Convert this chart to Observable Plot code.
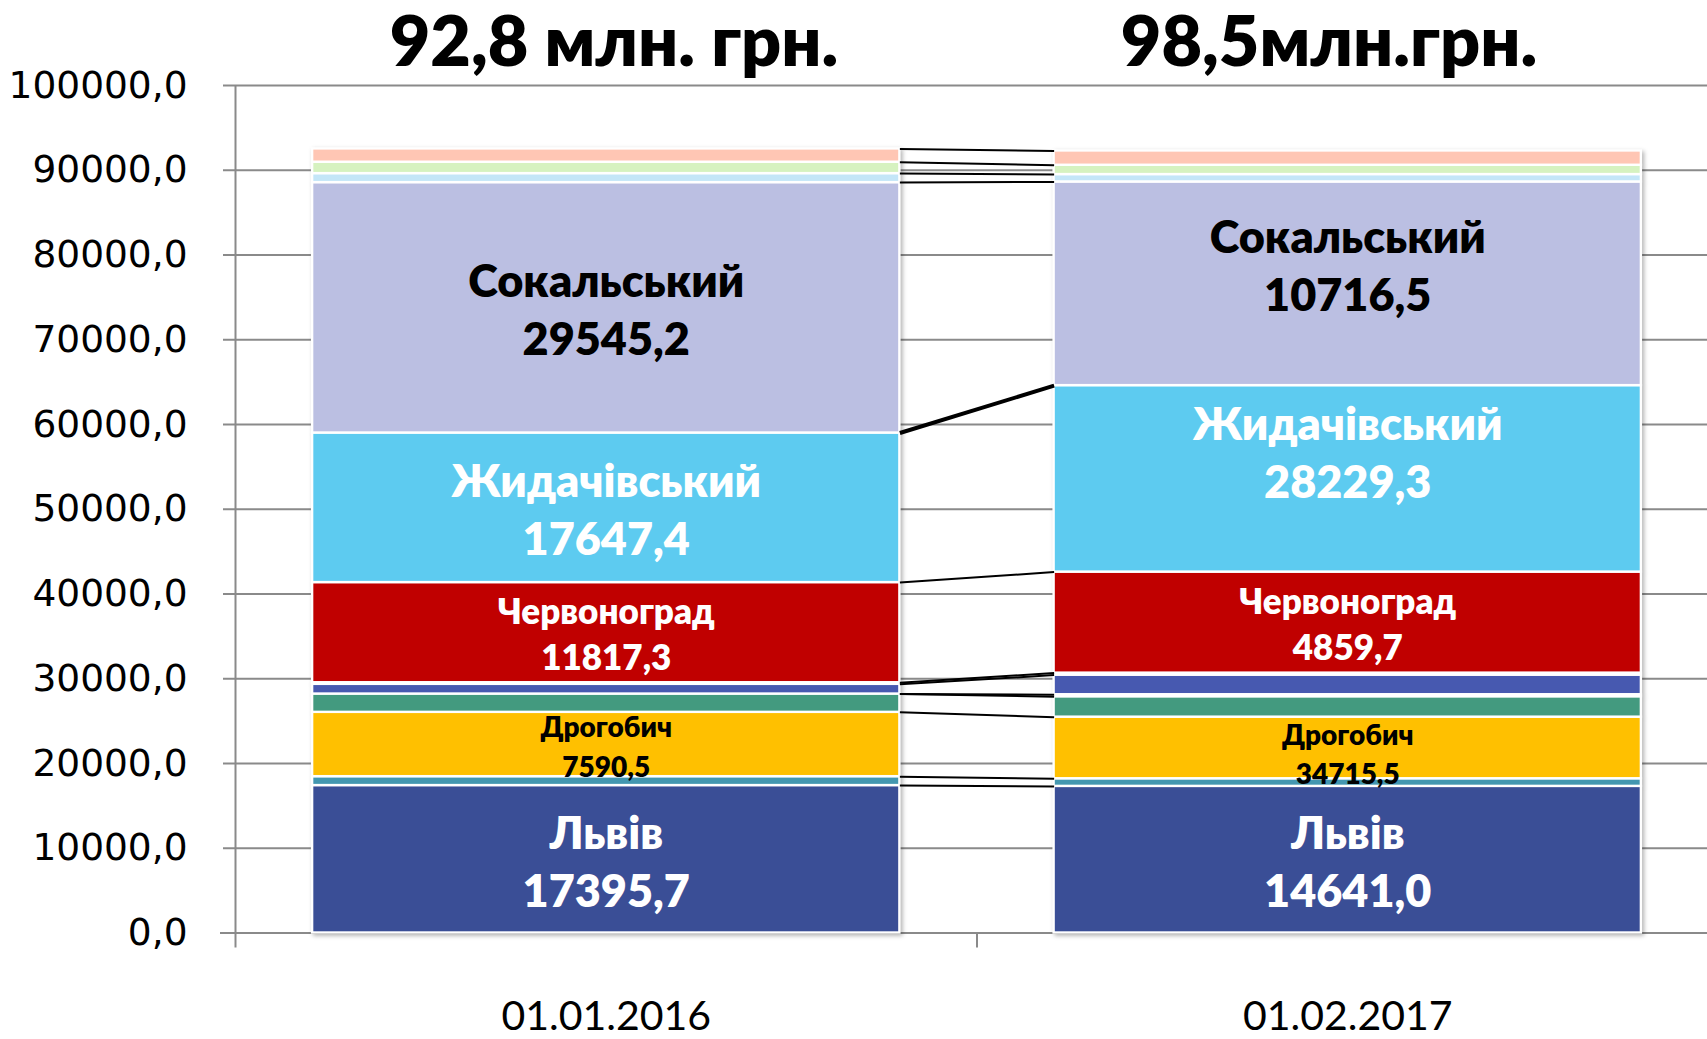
<!DOCTYPE html>
<html><head><meta charset="utf-8">
<script src="https://cdn.jsdelivr.net/npm/d3@7"></script>
<script src="https://cdn.jsdelivr.net/npm/@observablehq/plot@0.6"></script>
<style>
body{margin:0;background:#fff;width:1707px;height:1039px;overflow:hidden;}
#header{position:relative;height:70px;font-family:Lato,"Noto Sans",sans-serif;font-weight:800;}
#header span{position:absolute;top:4px;transform:translateX(-50%);font-size:70px;line-height:1;white-space:nowrap;color:#000;}
#chart svg{overflow:visible;display:block;}
</style></head><body>
<div id="header"></div><div id="chart"></div>
<script>
const dates = ["01.01.2016", "01.02.2017"];
const titles = ["92,8 млн. грн.", "98,5млн.грн."];
const series = ["Львів", "Ряд 2", "Дрогобич", "Ряд 4", "Ряд 5", "Ряд 6", "Ряд 7", "Червоноград", "Жидачівський", "Сокальський", "Ряд 11", "Ряд 12", "Ряд 13"];
const values2016 = [17395.7, 1050, 7590.5, 2160, 0, 1145, 190, 11817.3, 17647.4, 29545.2, 1062, 1346, 1569];
const values2017 = [17300, 900, 7270, 2410, 236, 2313, 236, 11921, 22001, 24031, 873, 1098, 1688];
const labels2016 = ["17395,7", "", "7590,5", "", "", "", "", "11817,3", "17647,4", "29545,2", "", "", ""];
const labels2017 = ["14641,0", "", "34715,5", "", "", "", "", "4859,7", "28229,3", "10716,5", "", "", ""];
const colors = ["#3A4E96", "#4397B0", "#FFC000", "#439A7F", "#E9CDBE", "#4759B0", "#E4DDEE", "#C00000", "#5DCBF0", "#BBBFE2", "#C4E6F8", "#D6F2C0", "#FFC6B4"];
const yTicks = d3.range(0, 100001, 10000);

// title positions (css px)
const titleCenters = [614, 1329];
const header = document.getElementById("header");
titles.forEach((t, i) => {
  const s = document.createElement("span");
  s.textContent = t;
  s.style.left = titleCenters[i] + "px";
  header.appendChild(s);
});

const barHalf = 0.396;
const allValues = [values2016, values2017];
const allLabels = [labels2016, labels2017];
const table = [];
allValues.forEach((vals, i) => {
  let cum = 0;
  vals.forEach((v, j) => {
    table.push({x: i, date: dates[i], series: series[j], y1: cum, y2: cum + v, value: v, label: allLabels[i][j]});
    cum += v;
  });
});
const links = series.map((s, j) => ({
  series: s,
  ya: table.find(d => d.x === 0 && d.series === s).y2,
  yb: table.find(d => d.x === 1 && d.series === s).y2
}));

// label styling (manual label nudges as in the original, in px)
const labelStyle = {
  "Львів": {fontSize: 45, fill: "white", lineHeight: 1.29},
  "Дрогобич": {fontSize: 28, fill: "black", lineHeight: 1.4},
  "Червоноград": {fontSize: 35, fill: "white", lineHeight: 1.3},
  "Жидачівський": {fontSize: 45, fill: "white", lineHeight: 1.29},
  "Сокальський": {fontSize: 45, fill: "black", lineHeight: 1.29}
};
const labelNudge = {"1|Сокальський": -20, "1|Жидачівський": -28, "1|Дрогобич": 4};
const labelFont = 'Lato, "Noto Sans", sans-serif';
const textMarks = Object.entries(labelStyle).flatMap(([s, st]) =>
  dates.map((dt, i) => Plot.text(table.filter(d => d.series === s && d.x === i && d.label), {
    x: "x", y: d => (d.y1 + d.y2) / 2, dy: labelNudge[i + "|" + s] || 0,
    text: d => d.series + "\n" + d.label,
    fontSize: st.fontSize, fill: st.fill, lineHeight: st.lineHeight,
    fontWeight: 800, fontFamily: labelFont, textAnchor: "middle", lineAnchor: "middle"
  }))
);

const plot = Plot.plot({
  width: 1707, height: 969,
  marginTop: 15, marginBottom: 106.5, marginLeft: 235, marginRight: -11,
  x: {type: "linear", domain: [-0.5, 1.5]},
  y: {domain: [0, 100000]},
  color: {type: "ordinal", domain: series, range: colors},
  style: {background: "white", color: "black"},
  marks: [
    Plot.gridY(yTicks, {stroke: "#8a8a8a", strokeOpacity: 1, strokeWidth: 2}),
    Plot.axisY({ticks: yTicks, tickFormat: d => d.toFixed(1).replace(".", ","), tickSize: 12, tickPadding: 36,
      fontSize: 37.5, fontFamily: "DejaVu Sans", stroke: "#8a8a8a", strokeWidth: 2, fill: "black", label: null}),
    Plot.axisX({ticks: dates.map((d, i) => i), tickFormat: i => dates[i], tickSize: 0, tickPadding: 68,
      fontSize: 41, fontFamily: labelFont, fill: "black", label: null}),
    Plot.ruleY([0], {stroke: "#8a8a8a", strokeWidth: 2, insetLeft: -15}),
    Plot.ruleX([-0.5], {stroke: "#8a8a8a", strokeWidth: 2}),
    Plot.ruleX(dates.map((d, i) => i - 0.5), {y1: 0, y2: 0, insetBottom: -15, stroke: "#8a8a8a", strokeWidth: 2}),
    Plot.rectY(table.filter(d => d.value > 0), {
      x1: d => d.x - barHalf, x2: d => d.x + barHalf, y1: "y1", y2: "y2",
      fill: "series", stroke: "white", strokeWidth: 2.4
    }),
    Plot.link(links, {x1: () => 0 + barHalf, x2: () => 1 - barHalf, y1: "ya", y2: "yb", stroke: "black",
      strokeWidth: d => d.series === "Жидачівський" ? 4 : 2}),
    ...textMarks
  ]
});
document.getElementById("chart").appendChild(plot);
const rg = plot.querySelector('g[aria-label="rect"]');
if (rg) rg.style.filter = "drop-shadow(2px 2px 2px rgba(0,0,0,0.3))";
</script>
</body></html>
